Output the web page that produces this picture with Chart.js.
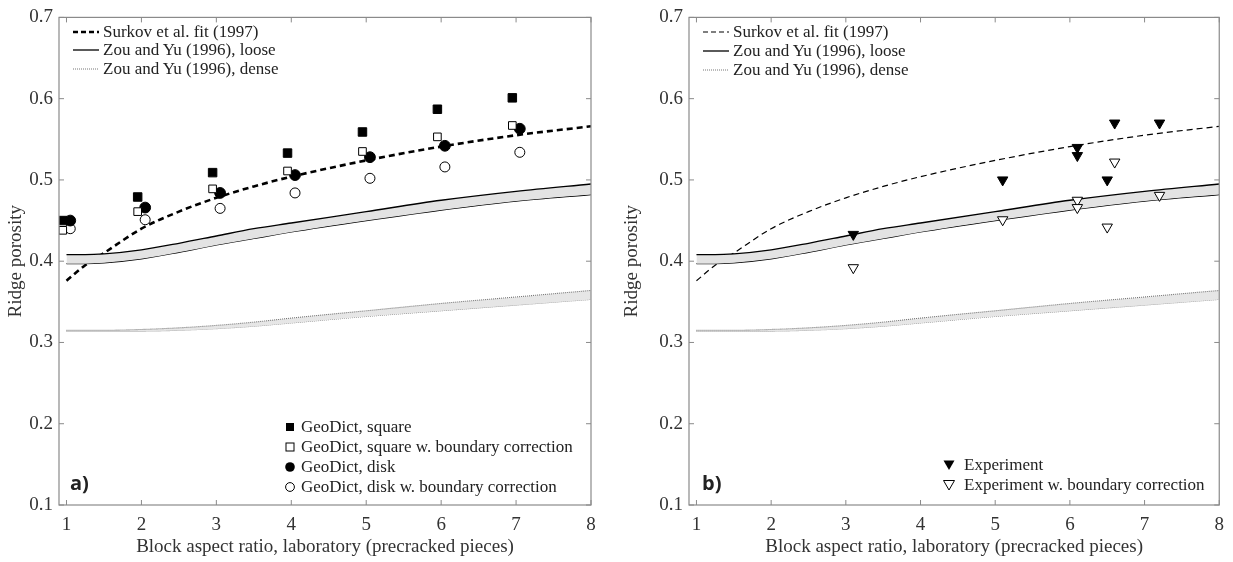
<!DOCTYPE html>
<html>
<head>
<meta charset="utf-8">
<script src="https://cdn.jsdelivr.net/npm/chart.js@4.4.0/dist/chart.umd.min.js"></script>
<style>
  body { margin: 0; background: #fff; width: 1233px; height: 562px; overflow: hidden; position: relative;
         font-family: "Liberation Serif", "Times New Roman", serif; }
  .panel { position: absolute; top: 0; height: 562px; }
  .row { position: absolute; height: 20px; line-height: 20px; font-size: 17px; color: #222;
         white-space: nowrap; display: flex; align-items: center; }
  .row svg { flex: none; margin-right: 4px; }
  .tag { position: absolute; font-family: "Open Sans", "Liberation Sans", sans-serif; font-weight: 700;
         font-size: 20px; color: #222; line-height: 24px; }
</style>
</head>
<body>
<div class="panel" style="left:0;width:616px"><canvas id="chartA"></canvas></div>
<div class="panel" style="left:616px;width:617px"><canvas id="chartB"></canvas></div>

<!-- panel a legends -->
<div class="row" style="left:73px;top:22px"><svg width="26" height="8"><line x1="0" y1="4" x2="26" y2="4" stroke="#000" stroke-width="2.5" stroke-dasharray="5,3"/></svg>Surkov et al. fit (1997)</div>
<div class="row" style="left:73px;top:40px"><svg width="26" height="8"><line x1="0" y1="4" x2="26" y2="4" stroke="#000" stroke-width="1.3"/></svg>Zou and Yu (1996), loose</div>
<div class="row" style="left:73px;top:59px"><svg width="26" height="8"><line x1="0" y1="4" x2="26" y2="4" stroke="#777" stroke-width="1" stroke-dasharray="1,1"/></svg>Zou and Yu (1996), dense</div>

<div class="row" style="left:283px;top:417px"><svg width="14" height="12"><rect x="3" y="2" width="8" height="8" fill="#000"/></svg>GeoDict, square</div>
<div class="row" style="left:283px;top:437px"><svg width="14" height="12"><rect x="3" y="2" width="8" height="8" fill="#fff" stroke="#000" stroke-width="1"/></svg>GeoDict, square w. boundary correction</div>
<div class="row" style="left:283px;top:457px"><svg width="14" height="12"><circle cx="7" cy="6" r="4.8" fill="#000"/></svg>GeoDict, disk</div>
<div class="row" style="left:283px;top:477px"><svg width="14" height="12"><circle cx="7" cy="6" r="4.4" fill="#fff" stroke="#000" stroke-width="1"/></svg>GeoDict, disk w. boundary correction</div>
<div class="tag" style="left:70px;top:471px">a)</div>

<!-- panel b legends -->
<div class="row" style="left:703px;top:22px"><svg width="26" height="8"><line x1="0" y1="4" x2="26" y2="4" stroke="#000" stroke-width="1.2" stroke-dasharray="5,3"/></svg>Surkov et al. fit (1997)</div>
<div class="row" style="left:703px;top:41px"><svg width="26" height="8"><line x1="0" y1="4" x2="26" y2="4" stroke="#000" stroke-width="1.3"/></svg>Zou and Yu (1996), loose</div>
<div class="row" style="left:703px;top:60px"><svg width="26" height="8"><line x1="0" y1="4" x2="26" y2="4" stroke="#777" stroke-width="1" stroke-dasharray="1,1"/></svg>Zou and Yu (1996), dense</div>

<div class="row" style="left:942px;top:455px"><svg width="14" height="12" style="margin-right:8px"><polygon points="1.5,1.5 12.5,1.5 7,11" fill="#000"/></svg>Experiment</div>
<div class="row" style="left:942px;top:475px"><svg width="14" height="12" style="margin-right:8px"><polygon points="1.5,1.5 12.5,1.5 7,11" fill="#fff" stroke="#000" stroke-width="1"/></svg>Experiment w. boundary correction</div>
<div class="tag" style="left:702px;top:471px">b)</div>

<script>
const xTicks = [1, 2, 3, 4, 5, 6, 7, 8];
const yTicks = [0.1, 0.2, 0.3, 0.4, 0.5, 0.6, 0.7];
const xTitle = 'Block aspect ratio, laboratory (precracked pieces)';
const yTitle = 'Ridge porosity';

// model curves
const curveRatio = [1, 1.25, 1.5, 2, 2.5, 3, 3.5, 4, 5, 6, 7, 8];
const surkov     = [0.376, 0.395, 0.410, 0.440, 0.461, 0.478, 0.492, 0.504, 0.524, 0.541, 0.555, 0.566];
const looseUpper = [0.408, 0.408, 0.409, 0.414, 0.422, 0.431, 0.440, 0.447, 0.461, 0.475, 0.486, 0.495];
const looseLower = [0.397, 0.397, 0.398, 0.403, 0.411, 0.420, 0.428, 0.436, 0.450, 0.463, 0.474, 0.482];
const denseUpper = [0.315, 0.315, 0.315, 0.316, 0.318, 0.321, 0.325, 0.330, 0.339, 0.348, 0.356, 0.364];
const denseLower = [0.314, 0.314, 0.314, 0.314, 0.315, 0.317, 0.320, 0.324, 0.332, 0.339, 0.346, 0.353];

// GeoDict simulations (panel a)
const squareRatio   = [0.95, 1.95, 2.95, 3.95, 4.95, 5.95, 6.95];
const squarePor     = [0.450, 0.479, 0.509, 0.533, 0.559, 0.587, 0.601];
const squareCorrPor = [0.438, 0.461, 0.489, 0.511, 0.535, 0.553, 0.567];
const diskRatio     = [1.05, 2.05, 3.05, 4.05, 5.05, 6.05, 7.05];
const diskPor       = [0.450, 0.466, 0.484, 0.506, 0.528, 0.542, 0.563];
const diskCorrPor   = [0.440, 0.451, 0.465, 0.484, 0.502, 0.516, 0.534];

// laboratory experiments (panel b)
const expRatio   = [3.1, 5.1, 6.1, 6.1, 6.5, 6.6, 7.2];
const expPor     = [0.433, 0.500, 0.540, 0.530, 0.500, 0.570, 0.570];
const expCorrPor = [0.392, 0.451, 0.475, 0.466, 0.442, 0.522, 0.481];

const pts = (xs, ys) => xs.map((x, i) => ({ x: x, y: ys[i] }));
const gray = '#8a8a8a';
const serif = 'Liberation Serif';

// box + inward tick marks like the original figure
const framePlugin = {
    id: 'frame',
    afterDraw(chart) {
        const { ctx, chartArea: a, scales } = chart;
        ctx.save();
        ctx.strokeStyle = gray;
        ctx.lineWidth = 1.2;
        ctx.strokeRect(a.left, a.top, a.right - a.left, a.bottom - a.top);
        ctx.lineWidth = 1;
        ctx.beginPath();
        xTicks.forEach(v => {
            const px = scales.x.getPixelForValue(v);
            ctx.moveTo(px, a.bottom); ctx.lineTo(px, a.bottom - 5);
            ctx.moveTo(px, a.top); ctx.lineTo(px, a.top + 5);
        });
        yTicks.forEach(v => {
            const py = scales.y.getPixelForValue(v);
            ctx.moveTo(a.left, py); ctx.lineTo(a.left + 5, py);
            ctx.moveTo(a.right, py); ctx.lineTo(a.right - 5, py);
        });
        ctx.stroke();
        ctx.restore();
    }
};

function curveSets(surkovWidth) {
    const base = { pointRadius: 0, cubicInterpolationMode: 'monotone', order: 2 };
    return [
        Object.assign({}, base, { data: pts(curveRatio, looseUpper), borderColor: '#000', borderWidth: 1.3,
            fill: '+1', backgroundColor: '#e3e3e3' }),
        Object.assign({}, base, { data: pts(curveRatio, looseLower), borderColor: '#000', borderWidth: 1.3, fill: false }),
        Object.assign({}, base, { data: pts(curveRatio, denseUpper), borderColor: '#777', borderWidth: 1.1,
            borderDash: [1, 1], fill: '+1', backgroundColor: '#e6e6e6' }),
        Object.assign({}, base, { data: pts(curveRatio, denseLower), borderColor: '#777', borderWidth: 1.1,
            borderDash: [1, 1], fill: false }),
        Object.assign({}, base, { data: pts(curveRatio, surkov), borderColor: '#000', borderWidth: surkovWidth,
            borderDash: [6, 4], fill: false })
    ];
}

function markerSet(xs, ys, style, radius, filled, rotation) {
    return {
        data: pts(xs, ys), showLine: false, order: 1,
        pointStyle: style, pointRadius: radius, pointHoverRadius: radius,
        pointRotation: rotation || 0,
        pointBackgroundColor: filled ? '#000' : '#fff',
        pointBorderColor: '#000', pointBorderWidth: 1
    };
}

function makeOptions(yWidth, padRight) {
    return {
        responsive: true,
        maintainAspectRatio: false,
        animation: false,
        events: [],
        layout: { padding: { top: 13, right: padRight, left: 0, bottom: 0 } },
        plugins: { legend: { display: false }, tooltip: { enabled: false } },
        scales: {
            x: {
                type: 'linear', min: 0.9, max: 8,
                afterBuildTicks: s => { s.ticks = xTicks.map(v => ({ value: v })); },
                afterFit: s => { s.height = 57; },
                grid: { display: false, drawTicks: false },
                border: { display: false },
                ticks: { padding: 9, color: '#333', font: { family: serif, size: 19 } },
                title: { display: true, text: xTitle, color: '#333', padding: { top: 0, bottom: 4 },
                         font: { family: serif, size: 19 } }
            },
            y: {
                type: 'linear', min: 0.1, max: 0.7,
                afterBuildTicks: s => { s.ticks = yTicks.map(v => ({ value: v })); },
                afterFit: s => { s.width = yWidth; },
                grid: { display: false, drawTicks: false },
                border: { display: false },
                ticks: { padding: 6, color: '#333', font: { family: serif, size: 19 },
                         callback: v => v.toFixed(1) },
                title: { display: true, text: yTitle, color: '#333', padding: { top: 5, bottom: 0 },
                         font: { family: serif, size: 19 } }
            }
        }
    };
}

new Chart(document.getElementById('chartA'), {
    type: 'line',
    data: {
        datasets: curveSets(2.6).concat([
            markerSet(squareRatio, squarePor, 'rect', 6, true),
            markerSet(squareRatio, squareCorrPor, 'rect', 5.4, false),
            markerSet(diskRatio, diskPor, 'circle', 5.4, true),
            markerSet(diskRatio, diskCorrPor, 'circle', 5, false)
        ])
    },
    options: makeOptions(59, 25),
    plugins: [framePlugin]
});

new Chart(document.getElementById('chartB'), {
    type: 'line',
    data: {
        datasets: curveSets(1.2).concat([
            markerSet(expRatio, expPor, 'triangle', 6, true, 180),
            markerSet(expRatio, expCorrPor, 'triangle', 6, false, 180)
        ])
    },
    options: makeOptions(73, 13),
    plugins: [framePlugin]
});
</script>
</body>
</html>
